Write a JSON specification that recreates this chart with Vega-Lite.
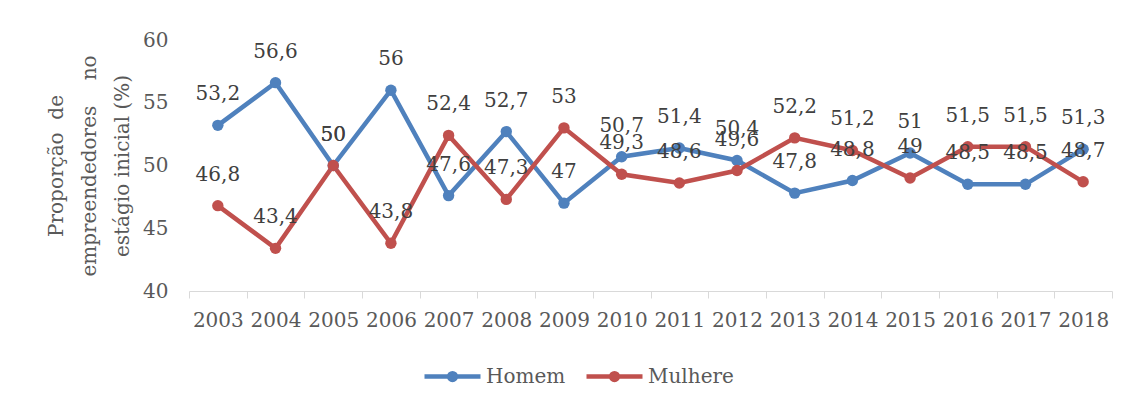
{
  "$schema": "https://vega.github.io/schema/vega-lite/v6.json",
  "width": 923,
  "height": 251,
  "autosize": {"type": "none"},
  "padding": {"left": 189, "top": 40, "right": 20, "bottom": 113},
  "background": "white",
  "config": {
    "view": {"stroke": null},
    "font": "DejaVu Serif",
    "locale": {"number": {"decimal": ",", "thousands": ".", "grouping": [3], "currency": ["", ""]}}
  },
  "data": {
    "values": [
      {"ano": "2003", "sexo": "Homem", "valor": 53.2},
      {"ano": "2004", "sexo": "Homem", "valor": 56.6},
      {"ano": "2005", "sexo": "Homem", "valor": 50},
      {"ano": "2006", "sexo": "Homem", "valor": 56},
      {"ano": "2007", "sexo": "Homem", "valor": 47.6},
      {"ano": "2008", "sexo": "Homem", "valor": 52.7},
      {"ano": "2009", "sexo": "Homem", "valor": 47},
      {"ano": "2010", "sexo": "Homem", "valor": 50.7},
      {"ano": "2011", "sexo": "Homem", "valor": 51.4},
      {"ano": "2012", "sexo": "Homem", "valor": 50.4},
      {"ano": "2013", "sexo": "Homem", "valor": 47.8},
      {"ano": "2014", "sexo": "Homem", "valor": 48.8},
      {"ano": "2015", "sexo": "Homem", "valor": 51},
      {"ano": "2016", "sexo": "Homem", "valor": 48.5},
      {"ano": "2017", "sexo": "Homem", "valor": 48.5},
      {"ano": "2018", "sexo": "Homem", "valor": 51.3},
      {"ano": "2003", "sexo": "Mulhere", "valor": 46.8},
      {"ano": "2004", "sexo": "Mulhere", "valor": 43.4},
      {"ano": "2005", "sexo": "Mulhere", "valor": 50},
      {"ano": "2006", "sexo": "Mulhere", "valor": 43.8},
      {"ano": "2007", "sexo": "Mulhere", "valor": 52.4},
      {"ano": "2008", "sexo": "Mulhere", "valor": 47.3},
      {"ano": "2009", "sexo": "Mulhere", "valor": 53},
      {"ano": "2010", "sexo": "Mulhere", "valor": 49.3},
      {"ano": "2011", "sexo": "Mulhere", "valor": 48.6},
      {"ano": "2012", "sexo": "Mulhere", "valor": 49.6},
      {"ano": "2013", "sexo": "Mulhere", "valor": 52.2},
      {"ano": "2014", "sexo": "Mulhere", "valor": 51.2},
      {"ano": "2015", "sexo": "Mulhere", "valor": 49},
      {"ano": "2016", "sexo": "Mulhere", "valor": 51.5},
      {"ano": "2017", "sexo": "Mulhere", "valor": 51.5},
      {"ano": "2018", "sexo": "Mulhere", "valor": 48.7}
    ]
  },
  "encoding": {
    "x": {
      "field": "ano", "type": "ordinal",
      "scale": {"paddingInner": 0, "paddingOuter": 0},
      "axis": {
        "title": null, "labelAngle": 0, "tickBand": "extent",
        "domainColor": "#d9d9d9", "tickColor": "#d9d9d9", "tickSize": 7,
        "labelFontSize": 20, "labelColor": "#595959", "labelPadding": 12
      }
    },
    "y": {
      "field": "valor", "type": "quantitative",
      "scale": {"domain": [40, 60], "nice": false, "zero": false},
      "axis": {
        "values": [40, 45, 50, 55, 60], "grid": false, "domain": false, "ticks": false,
        "labelFontSize": 20, "labelColor": "#595959", "labelPadding": 21,
        "title": ["Proporção\u00a0\u00a0de", "empreendedores\u00a0\u00a0\u00a0\u00a0no", "estágio inicial (%)"],
        "titleFontSize": 20, "titleFontWeight": "normal", "titleColor": "#595959",
        "titleLineHeight": 33, "titlePadding": 10
      }
    }
  },
  "layer": [
    {
      "mark": {"type": "line", "strokeWidth": 4.5, "point": {"filled": true, "size": 130}},
      "encoding": {
        "color": {
          "field": "sexo", "type": "nominal",
          "scale": {"domain": ["Homem", "Mulhere"], "range": ["#4F81BD", "#C0504D"]},
          "legend": {
            "title": null, "orient": "none", "direction": "horizontal",
            "legendX": 233, "legendY": 306,
            "symbolType": "M-1,0L1,0M-0.12,0A0.12,0.12,0,1,0,0.12,0A0.12,0.12,0,1,0,-0.12,0Z",
            "symbolSize": 3136, "symbolStrokeWidth": 4.5,
            "labelFontSize": 20, "labelColor": "#595959", "labelOffset": 3,
            "columnPadding": 11,
            "encode": {"symbols": {"update": {"fill": {"scale": "color", "field": "value"}}}}
          }
        }
      }
    },
    {
      "mark": {"type": "text", "dy": -31, "fontSize": 20, "color": "#404040", "baseline": "middle"},
      "encoding": {
        "text": {"field": "valor", "type": "quantitative", "format": ".1~f"}
      }
    }
  ]
}
